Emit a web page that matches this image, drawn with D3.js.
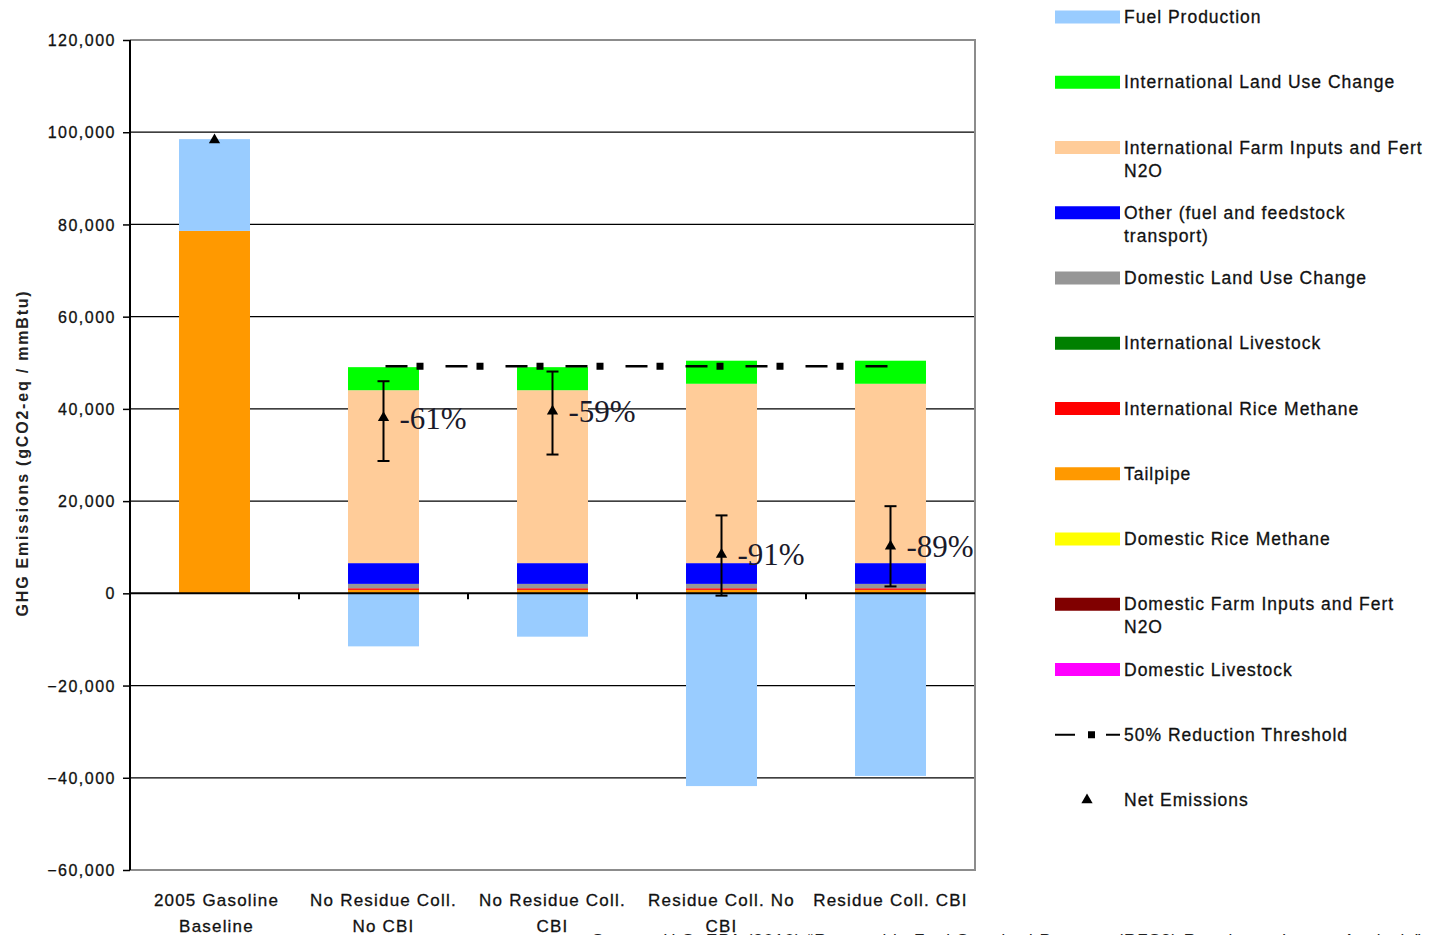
<!DOCTYPE html>
<html><head><meta charset="utf-8">
<script src="https://cdn.jsdelivr.net/npm/d3@7"></script>
<style>body{margin:0;background:#fff}</style>
</head><body>
<svg id="c" width="1435" height="935"></svg>
<script>
const categories = [["2005 Gasoline","Baseline"],["No Residue Coll.","No CBI"],["No Residue Coll.","CBI"],["Residue Coll. No","CBI"],["Residue Coll. CBI"]];
// series values (gCO2-eq / mmBtu), stack order bottom-up
const domesticLivestock = [0,0,0,0,0];
const domesticFarm = [0,0,0,0,0];
const domesticRice = [0,0,0,0,0];
const tailpipe = [78600,750,750,750,750];
const intlRice = [0,350,350,350,350];
const intlLivestock = [0,0,0,0,0];
const domesticLUC = [0,950,950,950,950];
const otherTransport = [0,4500,4500,4500,4500];
const intlFarm = [0,37500,37500,38900,38900];
const intlLUC = [0,5000,5000,5000,5000];
const fuelProduction = [19900,-11500,-9400,-41800,-39600];
const netEmissions = [98300,38100,39500,8400,10200];
const errLow = [null,28700,30100,-500,1500];
const errHigh = [null,46000,48100,16900,18900];
const reductionLabels = [null,"-61%","-59%","-91%","-89%"];
const threshold = [null,49250,49250,49250,49250];
const yTicks = [-60000,-40000,-20000,0,20000,40000,60000,80000,100000,120000];

const seriesData = [domesticLivestock,domesticFarm,domesticRice,tailpipe,intlRice,intlLivestock,domesticLUC,otherTransport,intlFarm,intlLUC,fuelProduction];
const colors = ["#ff00ff","#800000","#ffff00","#ff9900","#ff0000","#008000","#969696","#0000ff","#ffcc99","#00ff00","#99ccff"];
const legendOrder = [
 {i:10,lines:["Fuel Production"]},
 {i:9,lines:["International Land Use Change"]},
 {i:8,lines:["International Farm Inputs and Fert","N2O"]},
 {i:7,lines:["Other (fuel and feedstock","transport)"]},
 {i:6,lines:["Domestic Land Use Change"]},
 {i:5,lines:["International Livestock"]},
 {i:4,lines:["International Rice Methane"]},
 {i:3,lines:["Tailpipe"]},
 {i:2,lines:["Domestic Rice Methane"]},
 {i:1,lines:["Domestic Farm Inputs and Fert","N2O"]},
 {i:0,lines:["Domestic Livestock"]}
];

const FONT = "Liberation Sans, Arial, sans-serif";
const svg = d3.select("#c");
const L=130,R=975,T=40,B=870;
const x = d3.scaleBand().domain(d3.range(categories.length)).range([L,R]).paddingInner(0.58).paddingOuter(0.29);
const y = d3.scaleLinear().domain([-60000,120000]).range([B,T]);
const cxOf = j => x(j)+x.bandwidth()/2;

// gridlines
svg.append("g").selectAll("line").data(yTicks.filter(v=>v!==0&&v!==120000&&v!==-60000)).join("line")
 .attr("x1",L).attr("x2",R).attr("y1",d=>y(d)).attr("y2",d=>y(d)).attr("stroke","#000").attr("stroke-width",1.3);
// frame
svg.append("path").attr("d",`M${L},${T}H${R}V${B}H${L}`).attr("fill","none").attr("stroke","#8c8c8c").attr("stroke-width",2);

// stacked bars
const table = d3.range(categories.length).map(j=>{const o={idx:j};seriesData.forEach((s,k)=>o[k]=s[j]);return o;});
const stack = d3.stack().keys(d3.range(seriesData.length)).offset(d3.stackOffsetDiverging);
const layers = stack(table);
const gBars = svg.append("g");
layers.forEach((layer,k)=>{
  gBars.append("g").attr("fill",colors[k]).selectAll("rect").data(layer.filter(d=>d[1]!==d[0])).join("rect")
   .attr("x",d=>x(d.data.idx)).attr("width",x.bandwidth())
   .attr("y",d=>y(Math.max(d[0],d[1]))).attr("height",d=>Math.abs(y(d[0])-y(d[1])));
});

// axes
const yAxis = d3.axisLeft(y).tickValues(yTicks).tickSize(7).tickFormat(d3.format(","));
const gy = svg.append("g").attr("transform",`translate(${L},0)`).call(yAxis);
gy.select(".domain").attr("stroke","#000").attr("stroke-width",2).attr("d",`M0,${T}V${B}`);
gy.selectAll(".tick line").attr("stroke","#000").attr("stroke-width",1.5);
gy.selectAll(".tick text").attr("x",-14).attr("dy","0.35em").attr("font-family",FONT).attr("font-size",16)
  .attr("letter-spacing","1.5px").attr("fill","#111").attr("stroke","#111").attr("stroke-width",0.3);

const gx = svg.append("g");
gx.append("line").attr("x1",L).attr("x2",R).attr("y1",y(0)).attr("y2",y(0)).attr("stroke","#000").attr("stroke-width",2);
const step = x.step();
gx.selectAll("line.tk").data(d3.range(1,categories.length)).join("line").attr("class","tk")
 .attr("x1",d=>x(d)-(step-x.bandwidth())/2).attr("x2",d=>x(d)-(step-x.bandwidth())/2)
 .attr("y1",y(0)).attr("y2",y(0)+6).attr("stroke","#000").attr("stroke-width",2);

// category labels
const gc = svg.append("g").attr("font-family",FONT).attr("font-size",17).attr("letter-spacing","1.2px")
  .attr("fill","#111").attr("stroke","#111").attr("stroke-width",0.3).attr("text-anchor","middle");
categories.forEach((lines,j)=>{
  lines.forEach((t,li)=>gc.append("text").attr("x",cxOf(j)+(j===0?2:0)).attr("y",906+li*26).text(t));
});

// threshold line
const thrPts = threshold.map((v,j)=>[j,v]).filter(d=>d[1]!==null);
const line = d3.line().x(d=>cxOf(d[0])).y(d=>y(d[1]));
svg.append("path").attr("d",line(thrPts)).attr("fill","none").attr("stroke","#000").attr("stroke-width",2.5).attr("stroke-dasharray","22 38").attr("stroke-dashoffset","-2");
svg.append("path").attr("d",line(thrPts)).attr("fill","none").attr("stroke","#000").attr("stroke-width",7).attr("stroke-dasharray","0 33 7 20");

// error bars
const ge = svg.append("g").attr("stroke","#000").attr("stroke-width",2);
d3.range(categories.length).forEach(j=>{
  if(errLow[j]===null) return;
  const cx = cxOf(j);
  ge.append("line").attr("x1",cx).attr("x2",cx).attr("y1",y(errLow[j])).attr("y2",y(errHigh[j]));
  [errLow[j],errHigh[j]].forEach(v=>ge.append("line").attr("x1",cx-6).attr("x2",cx+6).attr("y1",y(v)).attr("y2",y(v)));
});
// net emission markers
const tri = d3.symbol().type(d3.symbolTriangle).size(55);
svg.append("g").selectAll("path").data(netEmissions).join("path")
 .attr("d",tri).attr("transform",(d,j)=>`translate(${cxOf(j)},${y(d)})`).attr("fill","#000");
// reduction labels
const labelData = netEmissions.map((v,j)=>({j,v,t:reductionLabels[j]})).filter(d=>d.t!==null);
svg.append("g").selectAll("text").data(labelData).join("text")
 .attr("x",d=>cxOf(d.j)+16).attr("y",d=>y(d.v)).attr("dy","0.35em")
 .attr("font-family","Liberation Serif, Times New Roman, serif").attr("font-size",31).attr("fill","#1a1a2a")
 .text(d=>d.t);

// y-axis title
svg.append("text").attr("transform","translate(28,453) rotate(-90)").attr("text-anchor","middle")
 .attr("font-family",FONT).attr("font-size",16).attr("font-weight","bold").attr("letter-spacing","1.8px").attr("fill","#222")
 .text("GHG Emissions (gCO2-eq / mmBtu)");

// legend
const lg = svg.append("g").attr("font-family",FONT).attr("font-size",17.5).attr("letter-spacing","1px")
  .attr("fill","#111").attr("stroke","#111").attr("stroke-width",0.3);
const rowY = j=>17+j*65.25;
legendOrder.forEach((e,j)=>{
  const cy = rowY(j);
  lg.append("rect").attr("x",1055).attr("y",cy-6.5).attr("width",65).attr("height",13).attr("fill",colors[e.i]).attr("stroke","none");
  e.lines.forEach((t,li)=>lg.append("text").attr("x",1124).attr("y",cy+li*23).attr("dy","0.35em").text(t));
});
const ty = rowY(11);
lg.append("line").attr("x1",1055).attr("x2",1075).attr("y1",ty).attr("y2",ty).attr("stroke","#000").attr("stroke-width",2);
lg.append("rect").attr("x",1088).attr("y",ty-3.5).attr("width",7).attr("height",7).attr("fill","#000").attr("stroke","none");
lg.append("line").attr("x1",1106).attr("x2",1120).attr("y1",ty).attr("y2",ty).attr("stroke","#000").attr("stroke-width",2);
lg.append("text").attr("x",1124).attr("y",ty).attr("dy","0.35em").text("50% Reduction Threshold");
const ny = rowY(12);
lg.append("path").attr("d",tri).attr("transform",`translate(1087,${ny})`).attr("fill","#000").attr("stroke","none");
lg.append("text").attr("x",1124).attr("y",ny).attr("dy","0.35em").text("Net Emissions");

// source note (cut at bottom edge, as in the reference)
svg.append("text").attr("x",592).attr("y",946).attr("font-family",FONT).attr("font-size",17).attr("letter-spacing","1px").attr("fill","#222")
 .text("Source: U.S. EPA (2010) \u201cRenewable Fuel Standard Program (RFS2) Regulatory Impact Analysis\u201d");
</script>
</body></html>
